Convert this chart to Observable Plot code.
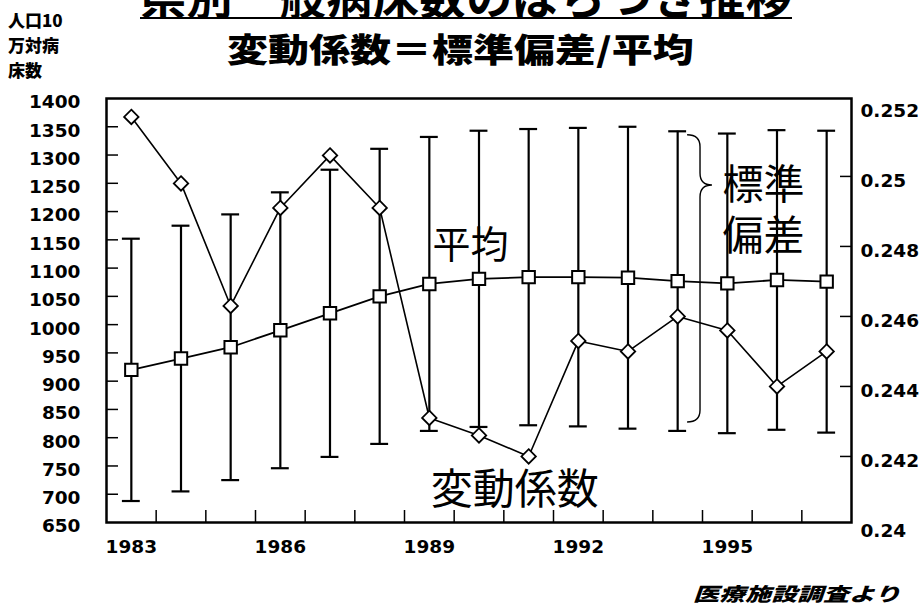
<!DOCTYPE html>
<html><head><meta charset="utf-8">
<script src="https://cdn.jsdelivr.net/npm/d3@7"></script>
<script src="https://cdn.jsdelivr.net/npm/@observablehq/plot@0.6"></script>
<style>
body{margin:0;background:#fff;width:924px;height:610px;overflow:hidden;position:relative;font-family:"Noto Sans CJK JP","Noto Sans CJK SC",sans-serif;color:#000;}
#head{position:relative;height:80px;}
#title{position:absolute;left:140px;top:-29px;height:46px;line-height:46px;font-size:46px;font-weight:700;white-space:nowrap;border-bottom:2.5px solid #000;letter-spacing:0.6px;}
#subtitle{position:absolute;left:227px;top:27px;height:41px;line-height:41px;font-size:41px;font-weight:900;white-space:nowrap;transform:scaleY(0.8);transform-origin:center;}
#unit{position:absolute;left:8px;top:7px;font-size:17px;line-height:25px;font-weight:900;}
#caption{position:absolute;left:693px;top:578px;font-size:26px;line-height:30px;font-weight:900;font-style:italic;white-space:nowrap;transform:scaleY(0.72);transform-origin:center;}
svg{display:block;}
</style>
</head><body>
<div id="head">
  <div id="title">県別一般病床数のばらつき推移</div>
  <div id="subtitle">変動係数＝標準偏差/平均</div>
  <div id="unit">人口10<br>万対病<br>床数</div>
</div>
<div id="chart"></div>
<div id="caption">医療施設調査より</div>
<script>
// ---- data ----
const years = [1983, 1984, 1985, 1986, 1987, 1988, 1989, 1990, 1991, 1992, 1993, 1994, 1995, 1996, 1997];
const meanBeds = [920, 940, 960, 990, 1020, 1050, 1072, 1081, 1084, 1084, 1083, 1077, 1073, 1079, 1076];
const sdBeds = [232, 235, 235, 244, 254, 261, 260, 262, 262, 264, 267, 265, 265, 265, 267];
const cvValues = [0.2517, 0.2498, 0.2463, 0.2491, 0.2506, 0.2491, 0.2431, 0.2426, 0.2420, 0.2453, 0.2450, 0.2460, 0.2456, 0.2440, 0.2450];
const leftTicks = [1400, 1350, 1300, 1250, 1200, 1150, 1100, 1050, 1000, 950, 900, 850, 800, 750, 700, 650];
const rightTicks = [0.252, 0.25, 0.248, 0.246, 0.244, 0.242, 0.24];
const xLabels = [1983, 1986, 1989, 1992, 1995];
const labels = [
  {text: "平均", year: 1989.83, value: 1140, size: 38},
  {text: "変動係数", year: 1990.72, value: 706, size: 42}
];
const sdLabel = [{text: "標準\n偏差", year: 1995.73, value: 1206, size: 41}];
const brace = {year: 1994, top: 1335, tip: 1246, bottom: 827};

// ---- build ----
const rows = years.map((year, i) => ({
  year, mean: meanBeds[i], upper: meanBeds[i] + sdBeds[i], lower: meanBeds[i] - sdBeds[i], cv: cvValues[i]
}));
// secondary (right) axis mapped onto the left scale
const cvToLeft = d3.scaleLinear().domain([0.24, 0.252]).range([643, 1386]);
const innerLeft = leftTicks.slice(1, -1);
const innerRight = rightTicks.slice(1, -1);
const halfYears = years.slice(0, -1).map(y => y + 0.5);
const cap = 0.18;
const numFont = "'DejaVu Sans', 'Liberation Sans', sans-serif";
const cjkFont = "'Noto Sans CJK JP', 'Noto Sans CJK SC', sans-serif";

const braceMark = (index, scales) => {
  const x = scales.x, y = scales.y;
  const x0 = x(brace.year + 0.2), xs = x(brace.year + 0.46), xt = x(brace.year + 0.7);
  const yt = y(brace.top), yp = y(brace.tip), yb = y(brace.bottom);
  const r = 12;
  const d = `M${x0},${yt} Q${xs},${yt} ${xs},${yt + r} L${xs},${yp - r} Q${xs},${yp} ${xt},${yp} Q${xs},${yp} ${xs},${yp + r} L${xs},${yb - r} Q${xs},${yb} ${x0},${yb}`;
  return d3.create("svg:path").attr("d", d).attr("fill", "none").attr("stroke", "#000").attr("stroke-width", 1.4).node();
};

const chart = Plot.plot({
  width: 924,
  height: 486,
  marginTop: 18,
  marginBottom: 44,
  marginLeft: 106,
  marginRight: 73,
  style: {fontFamily: numFont, fontSize: "19px", fontWeight: "bold", background: "#fff", color: "#000"},
  x: {domain: [1982.5, 1997.5], axis: null},
  y: {domain: [650, 1400], axis: null},
  marks: [
    Plot.tickY(innerLeft, {y: d => d, insetRight: 733, stroke: "#000", strokeWidth: 1.5}),
    Plot.tickY(innerRight, {y: d => cvToLeft(d), insetLeft: 734, stroke: "#000", strokeWidth: 1.5}),
    Plot.tickX(halfYears, {x: d => d, insetTop: 412, stroke: "#000", strokeWidth: 1.5}),
    Plot.text(leftTicks, {y: d => d, frameAnchor: "left", textAnchor: "end", dx: -26, dy: 4, text: d => String(d), fontFamily: numFont, fontSize: 18.5, fontWeight: "bold", fill: "#000"}),
    Plot.text(rightTicks, {y: d => cvToLeft(d), frameAnchor: "right", textAnchor: "start", dx: 9, dy: 5, text: d => String(d), fontFamily: numFont, fontSize: 18.5, fontWeight: "bold", fill: "#000"}),
    Plot.text(xLabels, {x: d => d, frameAnchor: "bottom", dy: 30, text: d => String(d), fontFamily: numFont, fontSize: 18.5, fontWeight: "bold", fill: "#000"}),
    Plot.ruleX(rows, {x: "year", y1: "lower", y2: "upper", stroke: "#000", strokeWidth: 2.2}),
    Plot.ruleY(rows, {y: "upper", x1: d => d.year - cap, x2: d => d.year + cap, stroke: "#000", strokeWidth: 2.2}),
    Plot.ruleY(rows, {y: "lower", x1: d => d.year - cap, x2: d => d.year + cap, stroke: "#000", strokeWidth: 2.2}),
    Plot.line(rows, {x: "year", y: "mean", stroke: "#000", strokeWidth: 1.8}),
    Plot.line(rows, {x: "year", y: d => cvToLeft(d.cv), stroke: "#000", strokeWidth: 1.6}),
    Plot.dot(rows, {x: "year", y: "mean", symbol: "square", r: 7, fill: "#fff", stroke: "#000", strokeWidth: 2}),
    Plot.dot(rows, {x: "year", y: d => cvToLeft(d.cv), symbol: "diamond2", r: 6.5, fill: "#fff", stroke: "#000", strokeWidth: 1.8}),
    braceMark,
    Plot.text(labels, {x: "year", y: "value", text: "text", fontSize: d => d.size, fontFamily: cjkFont, fontWeight: "normal", fill: "#000"}),
    Plot.text(sdLabel, {x: "year", y: "value", text: "text", fontSize: 41, lineHeight: 1.24, fontFamily: cjkFont, fontWeight: "normal", fill: "#000"}),
    Plot.frame({stroke: "#000", strokeWidth: 2.5})
  ]
});
document.getElementById("chart").appendChild(chart);
</script>
</body></html>
